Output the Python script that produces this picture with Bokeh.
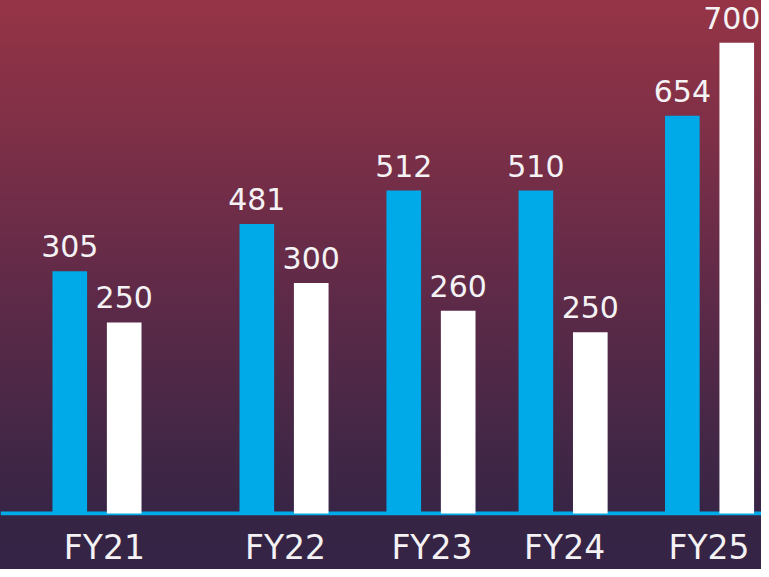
from bokeh.plotting import figure
from bokeh.models import ColumnDataSource, Range1d, FixedTicker, Span
from bokeh.core.properties import value
from bokeh.embed import file_html
from bokeh.resources import INLINE

# ---- data ----
years = ["FY21", "FY22", "FY23", "FY24", "FY25"]
blue_values = [305, 481, 512, 510, 654]      # labels on blue bars
white_values = [250, 300, 260, 250, 700]     # labels on white bars
# drawn bar heights (the infographic is not to scale)
blue_heights = [246, 294, 328, 328, 404]
white_heights = [194, 234, 206, 184, 478]

# ---- layout (positions, not data) ----
group_x = [97.5, 286.5, 435, 568.5, 716.5]
label_x = [105, 288, 436, 570, 716]
white_label_dx = [0, 0, 0, 0, -5]
offset = 27.5
bar_w = 35

BLUE = "#00a9e8"
TEXT = "#f4f2f4"
FONT = "DejaVu Sans"

blue_src = ColumnDataSource(dict(
    x=[g - offset for g in group_x], top=blue_heights,
    tx=[g - offset for g in group_x],
    lab=[str(v) for v in blue_values]))
white_src = ColumnDataSource(dict(
    x=[g + offset for g in group_x], top=white_heights,
    tx=[g + offset + d for g, d in zip(group_x, white_label_dx)],
    lab=[str(v) for v in white_values]))

p = figure(width=761, height=569, output_backend="svg", toolbar_location=None,
           x_range=Range1d(0, 769), y_range=Range1d(-2, 521),
           min_border_left=0, min_border_right=0, min_border_top=0,
           min_border_bottom=53)
p.styles = {
    "background": "linear-gradient(to bottom, #963446 0%, #7b2f47 26%, #5e2a48 52%, #432746 78%, #362445 92%, #352445 100%)",
}
p.background_fill_alpha = 0
p.border_fill_alpha = 0
p.outline_line_color = None
p.grid.visible = False
p.yaxis.visible = False

base = Span(location=0, dimension="width", line_color=BLUE, line_width=4)
base.level = "underlay"
p.add_layout(base)

p.vbar(x="x", top="top", bottom=0, width=bar_w, source=blue_src,
       fill_color=BLUE, line_color=None)
p.vbar(x="x", top="top", bottom=0, width=bar_w, source=white_src,
       fill_color="white", line_color=None)

for src in (blue_src, white_src):
    p.text(x="tx", y="top", text="lab", source=src, y_offset=-25,
           text_align="center", text_baseline="alphabetic",
           text_font=value(FONT), text_font_size="30px", text_color=TEXT)

ax = p.xaxis[0]
ax.ticker = FixedTicker(ticks=label_x)
ax.major_label_overrides = {x: y for x, y in zip(label_x, years)}
ax.axis_line_color = None
ax.major_tick_line_color = None
ax.minor_tick_line_color = None
ax.major_tick_out = 0
ax.major_tick_in = 0
ax.major_label_standoff = 12
ax.major_label_text_font = FONT
ax.major_label_text_font_size = "33px"
ax.major_label_text_color = TEXT

open("out.html", "w").write(file_html(p, INLINE))
